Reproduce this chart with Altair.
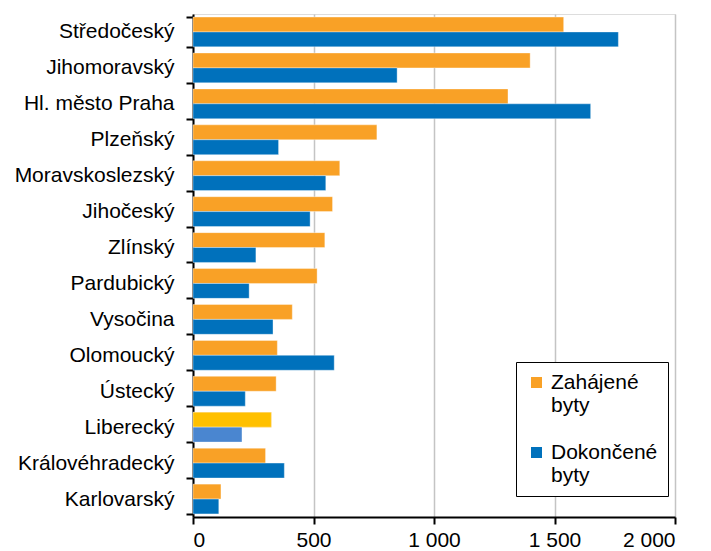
import altair as alt
import pandas as pd

regions = ["Středočeský", "Jihomoravský", "Hl. město Praha", "Plzeňský", "Moravskoslezský",
           "Jihočeský", "Zlínský", "Pardubický", "Vysočina", "Olomoucký", "Ústecký",
           "Liberecký", "Královéhradecký", "Karlovarský"]
zahajene = [1538, 1399, 1307, 763, 609, 579, 547, 515, 412, 350, 345, 325, 301, 116]
dokoncene = [1765, 847, 1650, 355, 551, 486, 261, 233, 332, 586, 217, 203, 379, 107]
series = ["Zahájené byty", "Dokončené byty"]
colors = ["#F9A126", "#0071BC"]
highlight_region = "Liberecký"
highlight_colors = ["#FFC000", "#4A86D0"]
x_ticks = [0, 500, 1000, 1500, 2000]

rows = []
for r, z, d in zip(regions, zahajene, dokoncene):
    hl = r == highlight_region
    rows.append({"region": r, "series": series[0], "value": z,
                 "hl": highlight_colors[0] if hl else colors[0], "is_hl": hl})
    rows.append({"region": r, "series": series[1], "value": d,
                 "hl": highlight_colors[1] if hl else colors[1], "is_hl": hl})
df = pd.DataFrame(rows)

FONT = "Liberation Sans"
FS = 21

y_enc = alt.Y("region:N", sort=regions, title=None,
              scale=alt.Scale(paddingInner=0.17, paddingOuter=0.085),
              axis=alt.Axis(labelFontSize=FS, labelFont=FONT, labelColor="#000",
                            labelPadding=12, tickSize=7, tickColor="#000", tickWidth=2,
                            domainColor="#000", domainWidth=2, grid=False,
                            tickBand="extent"))
x_enc = alt.X("value:Q", title=None,
              scale=alt.Scale(domain=[0, 2000], nice=False),
              axis=alt.Axis(values=x_ticks, labelFontSize=FS, labelFont=FONT,
                            labelColor="#000", labelPadding=5, tickSize=7,
                            tickColor="#000", tickWidth=2, domainColor="#000",
                            domainWidth=2, grid=True, gridColor="#c4c4c4",
                            gridWidth=1.5,
                            labelExpr="replace(format(datum.value, ','), ',', ' ')"))
yoff = alt.YOffset("series:N", sort=series, scale=alt.Scale(paddingInner=0, paddingOuter=0))

base = alt.Chart(df).mark_bar(stroke="#ffffff", strokeWidth=0.6, strokeOpacity=0.6).encode(
    x=x_enc, y=y_enc, yOffset=yoff,
    color=alt.Color("series:N", sort=series,
                    scale=alt.Scale(domain=series, range=colors),
                    legend=alt.Legend(title=None, orient="none", legendX=323, legendY=348,
                                      symbolType="square", symbolSize=121,
                                      symbolStrokeWidth=0, labelFontSize=FS,
                                      labelFont=FONT, labelColor="#000",
                                      labelExpr="split(datum.label, ' ')",
                                      labelLimit=300, rowPadding=25, padding=10,
                                      strokeColor="#000", fillColor="#fff",
                                      labelOffset=4)))

hl = alt.Chart(df).transform_filter(alt.datum.is_hl).mark_bar(
    stroke="#ffffff", strokeWidth=0.6, strokeOpacity=0.6).encode(
    x=x_enc, y=y_enc, yOffset=yoff,
    color=alt.Color("hl:N", scale=None))

chart = alt.layer(base, hl).properties(
    width=482, height=503,
    autosize=alt.AutoSizeParams(type="none"),
    padding={"left": 185, "top": 6, "right": 20, "bottom": 40},
).configure_view(stroke="#000", strokeWidth=2).configure(background="#fff")

chart.save("out.html", embed_options={"renderer": "svg", "actions": False})
